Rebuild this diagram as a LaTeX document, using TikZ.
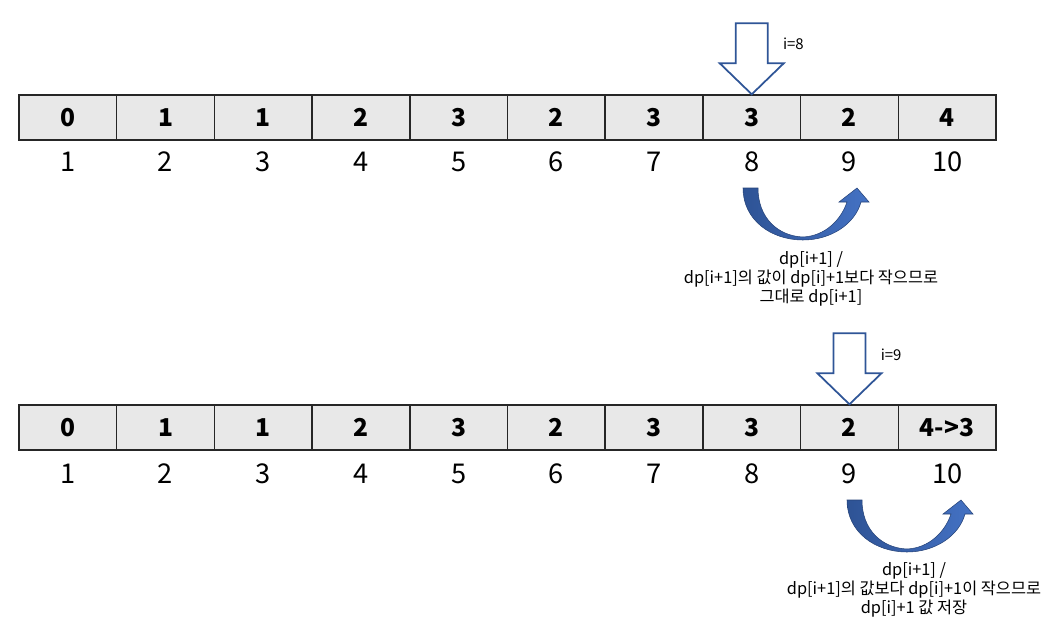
\documentclass[tikz,border=0pt]{standalone}
\usepackage{fontspec}
\setmainfont{Noto Sans CJK KR}
\usetikzlibrary{positioning}
\definecolor{cellgray}{HTML}{E8E8E8}
\definecolor{pointerblue}{HTML}{2F5597}
\definecolor{bluedark}{HTML}{2E5395}
\definecolor{bluelight}{HTML}{4472C4}
\tikzset{
  cellbox/.style={draw=black!85, line width=0.8pt, fill=cellgray, minimum width=1.954cm, minimum height=0.9cm, inner sep=0pt, font=\fontsize{14}{16}\selectfont\bfseries},
  idxlabel/.style={inner sep=0pt, font=\fontsize{15.5}{18}\selectfont},
  pointer/.style={draw=pointerblue, line width=1pt, fill=white, line join=miter},
  steplabel/.style={inner sep=0pt, anchor=west, font=\fontsize{8.5}{9.6}\selectfont},
  notetext/.style={align=center, inner sep=0pt, font=\fontsize{9.3}{9.6}\selectfont},
  bendarrow/.pic={
    \path[draw=bluedark!80!black, line width=0.3pt, left color=bluedark, right color=bluelight]
      (0,0) .. controls (0,32) and (28,52) .. (60,52)
      .. controls (88,52) and (112,36) .. (118,14)
      -- (126,14) -- (114,0) -- (96,14) -- (104,14)
      .. controls (98,32) and (82,48) .. (60,49)
      .. controls (35,48) and (15,30) .. (15,0) -- cycle;
  }
}
\begin{document}
\begin{tikzpicture}[x=0.02cm, y=-0.02cm]
  \useasboundingbox (0,0) rectangle (1046,629);
  % first row (i=8)
  \foreach \v [count=\i] in {0,1,1,2,3,2,3,3,2,4} {
    \node[cellbox] (a\i) at ({19+97.7*(\i-0.5)},117.5) {\v};
    \node[idxlabel] (ai\i) at ({19+97.7*(\i-0.5)},162) {\i};
  }
  \draw[pointer] (a8.north) -- ++(-32,-31) -- ++(16,0) -- ++(0,-40) -- ++(32,0) -- ++(0,40) -- ++(16,0) -- cycle;
  \node[steplabel] (lab8) at ([xshift=0.62cm, yshift=1.02cm]a8.north) {i=8};
  \pic at (743,188) {bendarrow};
  \node[notetext] (note8) at (811,279) {dp[i+1] /\\dp[i+1]의 값이 dp[i]+1보다 작으므로\\그대로 dp[i+1]};
  % second row (i=9)
  \foreach \v [count=\i] in {0,1,1,2,3,2,3,3,2,{4->3}} {
    \node[cellbox] (b\i) at ({19+97.7*(\i-0.5)},427.5) {\v};
    \node[idxlabel] (bi\i) at ({19+97.7*(\i-0.5)},474) {\i};
  }
  \draw[pointer] (b9.north) -- ++(-32,-31) -- ++(16,0) -- ++(0,-40) -- ++(32,0) -- ++(0,40) -- ++(16,0) -- cycle;
  \node[steplabel] (lab9) at ([xshift=0.62cm, yshift=1.0cm]b9.north) {i=9};
  \pic at (847,500) {bendarrow};
  \node[notetext] (note9) at (914,590) {dp[i+1] /\\dp[i+1]의 값보다 dp[i]+1이 작으므로\\dp[i]+1 값 저장};
\end{tikzpicture}
\end{document}
